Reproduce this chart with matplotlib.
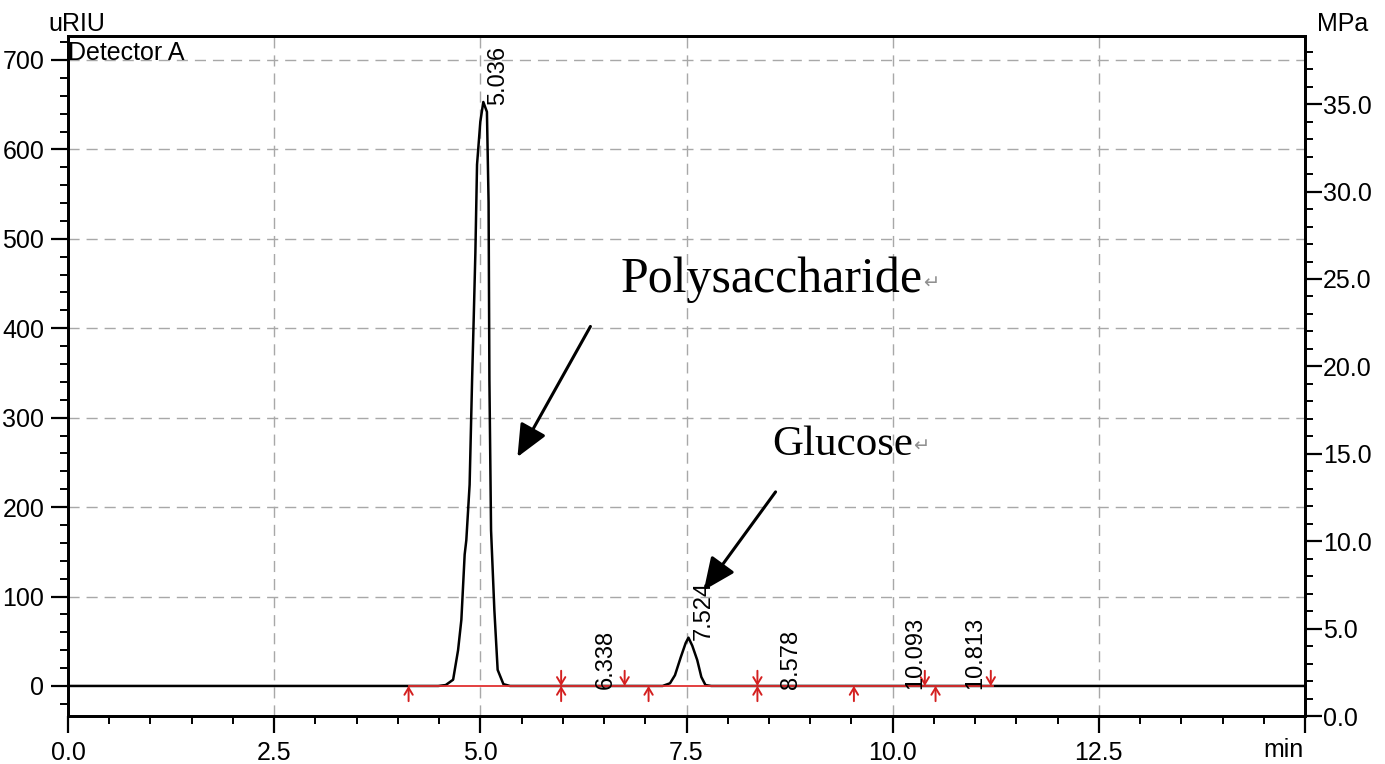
import matplotlib
matplotlib.use('Agg')
import matplotlib.pyplot as plt
from matplotlib.ticker import MultipleLocator, FixedLocator

plt.rcParams['font.family'] = ['Liberation Sans', 'DejaVu Sans']

# detector trace (min, uRIU)
trace_x = [0.0, 4.49, 4.58, 4.67, 4.73, 4.77, 4.81, 4.83, 4.87, 4.90, 4.92, 4.94,
           4.96, 5.00, 5.036, 5.08, 5.10, 5.11, 5.13, 5.17, 5.21, 5.28, 5.36,
           7.21, 7.30, 7.36, 7.43, 7.49, 7.524, 7.57, 7.63, 7.68, 7.73, 7.80, 15.0]
trace_y = [0, 0, 1, 7, 40, 74, 147, 163, 225, 342, 412, 485,
           583, 631, 653, 642, 541, 342, 174, 85, 18, 2, 0,
           0, 3, 12, 32, 48, 54, 45, 29, 10, 1, 0, 0]

# integration marks
peak_times = [5.036, 6.338, 7.524, 8.578, 10.093, 10.813]
peak_labels = ['5.036', '6.338', '7.524', '8.578', '10.093', '10.813']
peak_heights = [653, 0, 54, 0, 0, 0]
start_marks = [4.13, 5.98, 7.04, 8.36, 9.53, 10.52]
end_marks = [5.98, 6.75, 8.36, 10.39, 11.19]
baseline_span = [4.13, 11.22]

x_ticks = [0.0, 2.5, 5.0, 7.5, 10.0, 12.5]
left_ticks = [0, 100, 200, 300, 400, 500, 600, 700]
right_ticks = [0.0, 5.0, 10.0, 15.0, 20.0, 25.0, 30.0, 35.0]

fig = plt.figure(figsize=(13.85, 7.64), dpi=100)
ax = fig.add_axes([68 / 1385, 1 - 716 / 764, (1305 - 68) / 1385, (716 - 36) / 764])

ax.set_xlim(0, 15)
ax.set_ylim(-33.6, 726.8)

# grid
for xv in [2.5, 5.0, 7.5, 10.0, 12.5]:
    ax.axvline(xv, color='#a8a8a8', lw=1, ls=(0, (8, 5)), zorder=0)
for yv in left_ticks[1:]:
    ax.axhline(yv, color='#a8a8a8', lw=1, ls=(0, (8, 5)), zorder=0)

ax.plot(trace_x, trace_y, color='black', lw=1.8, zorder=3)
ax.plot(baseline_span, [0, 0], color='#e03030', lw=1.3, zorder=4)

arrow_kw = dict(arrowstyle='->,head_length=0.5,head_width=0.3', color='#d42020',
                lw=1.4, mutation_scale=10, shrinkA=0, shrinkB=0)
for t in start_marks:
    ax.annotate('', xy=(t, 0), xytext=(t, -17), arrowprops=arrow_kw, zorder=5)
for t in end_marks:
    ax.annotate('', xy=(t, 0), xytext=(t, 17), arrowprops=arrow_kw, zorder=5)

for t, lab, h in zip(peak_times, peak_labels, peak_heights):
    ax.annotate(lab, xy=(t, h), xytext=(3, -2), textcoords='offset points',
                rotation=90, ha='left', va='bottom', fontsize=17, zorder=6)

# annotations
poly = ax.text(6.70, 441, 'Polysaccharide', family='Liberation Serif', fontsize=36,
               va='baseline', ha='left')
ax.annotate('\u21b5', xy=(1.0, 0.22), xycoords=poly, fontsize=14, color='#909090',
            family='DejaVu Sans', va='bottom', ha='left')
glu = ax.text(8.54, 258, 'Glucose', family='Liberation Serif', fontsize=31,
              va='baseline', ha='left')
ax.annotate('\u21b5', xy=(1.0, 0.22), xycoords=glu, fontsize=14, color='#909090',
            family='DejaVu Sans', va='bottom', ha='left')

big_arrow = dict(arrowstyle='-|>,head_length=0.9,head_width=0.4', color='black',
                 lw=2.2, mutation_scale=22, shrinkA=0, shrinkB=0)
ax.annotate('', xy=(5.45, 256), xytext=(6.335, 402), arrowprops=big_arrow)
ax.annotate('', xy=(7.71, 107), xytext=(8.58, 217), arrowprops=big_arrow)

# axes styling
for s in ax.spines.values():
    s.set_linewidth(2)
ax.set_xticks(x_ticks + [15.0])
ax.set_xticklabels(['%.1f' % v for v in x_ticks] + [''])
ax.xaxis.set_minor_locator(MultipleLocator(0.5))
ax.set_yticks(left_ticks)
ax.set_yticklabels([str(v) for v in left_ticks])
ax.yaxis.set_minor_locator(FixedLocator([v for v in range(-20, 721, 20) if v % 100]))
ax.tick_params(which='major', direction='out', length=12, width=1.6, labelsize=18, pad=5)
ax.tick_params(which='minor', direction='out', length=6, width=1.4)
ax.tick_params(axis='x', which='major', pad=6)

ax2 = ax.twinx()
ax2.set_ylim(0, 38.9)
ax2.set_yticks(right_ticks)
ax2.set_yticklabels(['%.1f' % v for v in right_ticks])
ax2.yaxis.set_minor_locator(MultipleLocator(1.0))
ax2.tick_params(which='major', direction='out', length=12, width=1.6, labelsize=18, pad=1)
ax2.tick_params(which='minor', direction='out', length=6, width=1.4)
for s in ax2.spines.values():
    s.set_linewidth(2)

fig.text(77 / 1385, 1 - 31 / 764, 'uRIU', fontsize=18, ha='center', va='baseline')
fig.text(1343 / 1385, 1 - 31 / 764, 'MPa', fontsize=18, ha='center', va='baseline')
fig.text(1304 / 1385, 1 - 757 / 764, 'min', fontsize=18, ha='right', va='baseline')
fig.text(68 / 1385, 1 - 60 / 764, 'Detector A', fontsize=18, ha='left', va='baseline')

fig.savefig('out.png', dpi=100)
